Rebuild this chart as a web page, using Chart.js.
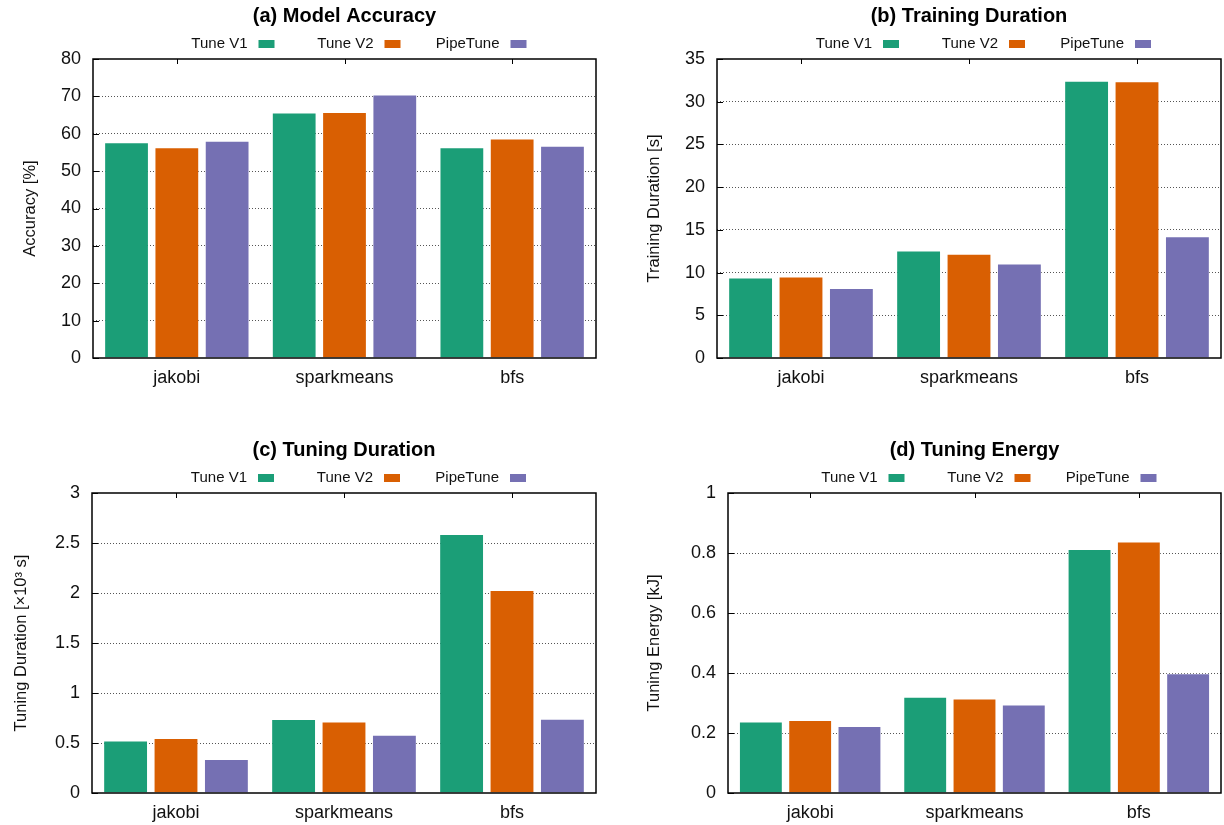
<!DOCTYPE html>
<html>
<head>
<meta charset="utf-8">
<title>PipeTune comparison</title>
<script src="https://cdn.jsdelivr.net/npm/chart.js@4.4.1/dist/chart.umd.min.js"></script>
<style>
  body { margin: 0; background: #fff; }
  #wrap { position: relative; width: 1224px; height: 825px; }
  #wrap canvas { position: absolute; }
</style>
</head>
<body>
<div id="wrap">
  <canvas id="accuracyChart" width="612" height="412" style="left:0;top:0"></canvas>
  <canvas id="trainingChart" width="612" height="412" style="left:612px;top:0"></canvas>
  <canvas id="tuningChart" width="612" height="413" style="left:0;top:412px"></canvas>
  <canvas id="energyChart" width="612" height="413" style="left:612px;top:412px"></canvas>
</div>
<script>
// workloads and tuners
const benchmarks = ['jakobi', 'sparkmeans', 'bfs'];
const tuners = ['Tune V1', 'Tune V2', 'PipeTune'];
const tunerColors = ['#1b9e77', '#d95f02', '#7570b3'];

// (a) accuracy in %
const accuracyV1 = [57.7, 65.7, 56.4];
const accuracyV2 = [56.4, 65.8, 58.7];
const accuracyPipe = [58.1, 70.5, 56.8];
const accuracyTicks = [0, 10, 20, 30, 40, 50, 60, 70, 80];

// (b) training duration in s
const trainingV1 = [9.42, 12.58, 32.45];
const trainingV2 = [9.54, 12.19, 32.41];
const trainingPipe = [8.18, 11.06, 14.26];
const trainingTicks = [0, 5, 10, 15, 20, 25, 30, 35];

// (c) tuning duration in 10^3 s
const tuningV1 = [0.525, 0.739, 2.59];
const tuningV2 = [0.549, 0.716, 2.03];
const tuningPipe = [0.341, 0.582, 0.742];
const tuningTicks = [0, 0.5, 1, 1.5, 2, 2.5, 3];

// (d) tuning energy in kJ
const energyV1 = [0.238, 0.321, 0.813];
const energyV2 = [0.243, 0.315, 0.838];
const energyPipe = [0.223, 0.295, 0.399];
const energyTicks = [0, 0.2, 0.4, 0.6, 0.8, 1];

const FONT = "'Liberation Sans', Arial, Helvetica, sans-serif";
Chart.defaults.font.family = FONT;
Chart.defaults.color = '#000';

// gnuplot-like frame, top tics, title and key (text left of the swatch)
const framePlugin = {
    id: 'frame',
    afterDatasetsDraw(chart, args, opts) {
        const ctx = chart.ctx;
        const a = chart.chartArea;
        const x = chart.scales.x;
        const y = chart.scales.y;
        ctx.save();

        ctx.strokeStyle = '#000';
        ctx.lineWidth = 1;
        x.ticks.forEach((t, i) => {
            const px = Math.round(x.getPixelForTick(i)) + 0.5;
            ctx.beginPath();
            ctx.moveTo(px, a.top);
            ctx.lineTo(px, a.top + 5);
            ctx.stroke();
        });
        y.ticks.forEach((t, i) => {
            const py = Math.round(y.getPixelForTick(i)) + 0.5;
            ctx.beginPath();
            ctx.moveTo(a.left, py);
            ctx.lineTo(a.left + 6, py);
            ctx.stroke();
        });

        ctx.lineWidth = 1.5;
        ctx.strokeRect(a.left, a.top, a.right - a.left, a.bottom - a.top);

        const cx = (a.left + a.right) / 2;
        ctx.fillStyle = '#000';
        ctx.textAlign = 'center';
        ctx.textBaseline = 'middle';
        ctx.font = 'bold 20px ' + FONT;
        ctx.fillText(opts.text, cx, a.top - 43);

        const keyRight = [-70, 56, 182];
        ctx.font = '15px ' + FONT;
        ctx.textAlign = 'right';
        chart.data.datasets.forEach((ds, i) => {
            const boxRight = cx + keyRight[i];
            ctx.fillStyle = ds.backgroundColor;
            ctx.fillRect(boxRight - 16, a.top - 19, 16, 8);
            ctx.fillStyle = '#111';
            ctx.fillText(ds.label, boxRight - 27, a.top - 15);
        });
        ctx.restore();
    }
};

function makePanel(id, title, yTitle, ticks, series, pad, yWidth) {
    const last = ticks[ticks.length - 1];
    return new Chart(document.getElementById(id), {
        type: 'bar',
        plugins: [framePlugin],
        data: {
            labels: benchmarks,
            datasets: tuners.map((name, i) => ({
                label: name,
                data: series[i],
                backgroundColor: tunerColors[i],
                borderColor: 'rgba(255,255,255,0.35)',
                borderWidth: 1,
                categoryPercentage: 0.9,
                barPercentage: 0.89
            }))
        },
        options: {
            responsive: false,
            devicePixelRatio: 1,
            animation: false,
            layout: { padding: pad },
            plugins: {
                legend: { display: false },
                tooltip: { enabled: false },
                frame: { text: title }
            },
            scales: {
                x: {
                    grid: { display: false, drawTicks: false },
                    border: { display: false },
                    ticks: { font: { size: 18 }, padding: 9, color: '#111' },
                    afterFit: s => { s.height = 30; }
                },
                y: {
                    min: ticks[0],
                    max: last,
                    afterBuildTicks: s => { s.ticks = ticks.map(v => ({ value: v })); },
                    afterFit: s => { s.width = yWidth; },
                    grid: {
                        drawTicks: false,
                        lineWidth: 1,
                        color: c => (c.tick && (c.tick.value === ticks[0] || c.tick.value === last)) ? 'rgba(0,0,0,0)' : '#555'
                    },
                    border: { display: false, dash: [1, 2] },
                    ticks: { font: { size: 18 }, padding: 12, color: '#111', callback: v => String(v) },
                    title: { display: true, text: yTitle, font: { size: 16.5 }, padding: 0, color: '#111' }
                }
            }
        }
    });
}

makePanel('accuracyChart', '(a) Model Accuracy', 'Accuracy [%]', accuracyTicks,
    [accuracyV1, accuracyV2, accuracyPipe], { left: 21, right: 16, top: 59, bottom: 24 }, 72);
makePanel('trainingChart', '(b) Training Duration', 'Training Duration [s]', trainingTicks,
    [trainingV1, trainingV2, trainingPipe], { left: 33, right: 3, top: 59, bottom: 24 }, 72);
makePanel('tuningChart', '(c) Tuning Duration', 'Tuning Duration [×10³ s]', tuningTicks,
    [tuningV1, tuningV2, tuningPipe], { left: 12, right: 16, top: 81, bottom: 2 }, 80);
makePanel('energyChart', '(d) Tuning Energy', 'Tuning Energy [kJ]', energyTicks,
    [energyV1, energyV2, energyPipe], { left: 33, right: 3, top: 81, bottom: 2 }, 83);
</script>
</body>
</html>
